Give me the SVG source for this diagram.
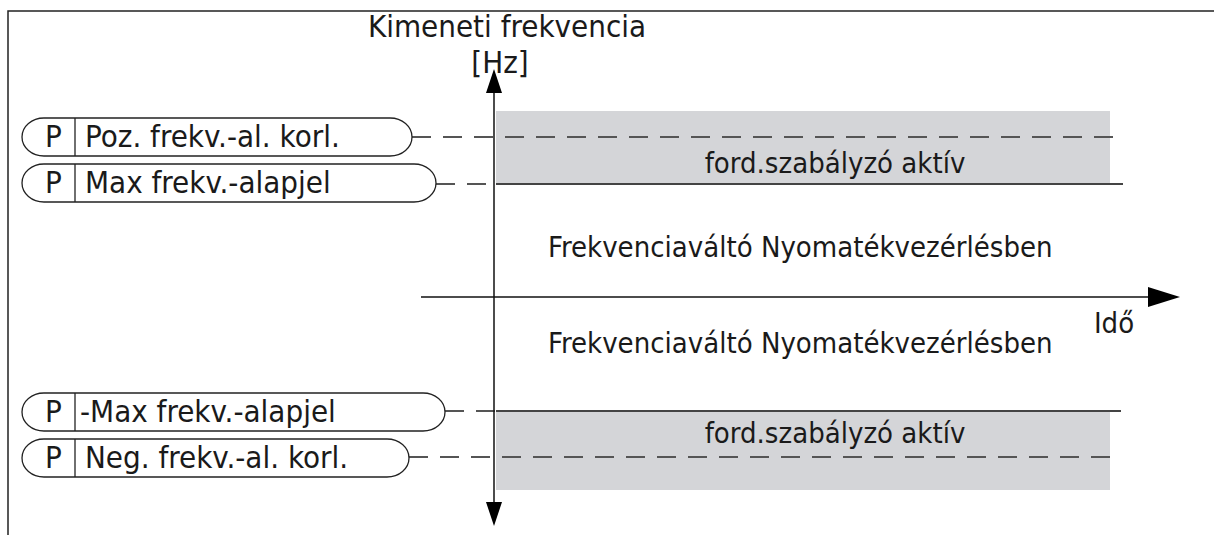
<svg xmlns="http://www.w3.org/2000/svg" width="1214" height="535" viewBox="0 0 1214 535">
<style>
text{font-family:"DejaVu Sans Condensed","DejaVu Sans",sans-serif;font-stretch:condensed;fill:#1a1a1a}
.m{font-size:29px}
.b{font-size:31px}
.box{fill:#fff;stroke:#222;stroke-width:1.3}
.div{stroke:#222;stroke-width:1.3}
.dash{stroke:#555;stroke-width:1.8;stroke-dasharray:19,12;fill:none}
.solid{stroke:#444;stroke-width:1.8;fill:none}
.axis{stroke:#111;stroke-width:1.5;fill:none}
.band{fill:#d4d5d8}
</style>
<path d="M8,535 V11 H1214" fill="none" stroke="#222" stroke-width="1.5"/>
<g id="bands">
<rect class="band" x="496" y="111" width="614" height="73"/>
<rect class="band" x="496" y="411" width="614" height="79"/>
</g>
<g id="connectors">
<line class="dash" x1="412" y1="137" x2="1123" y2="137"/>
<line class="dash" x1="436" y1="184" x2="496" y2="184"/>
<line class="solid" x1="496" y1="184" x2="1123" y2="184"/>
<line class="dash" x1="445" y1="411" x2="496" y2="411"/>
<line class="solid" x1="496" y1="411" x2="1121" y2="411"/>
<line class="dash" x1="409" y1="457" x2="1116" y2="457"/>
<path class="axis" d="M494,297 V90"/>
<path d="M494,69 L486,93 L502,93 z" fill="#000"/>
<path class="axis" d="M494,297 V505"/>
<path d="M494,526 L486,502 L502,502 z" fill="#000"/>
<path class="axis" d="M421,297 H1150"/>
<path d="M1180,297 L1148,287 L1148,307 z" fill="#000"/>
</g>
<g id="axis-labels">
<text class="b" x="507" y="37" text-anchor="middle">Kimeneti frekvencia</text>
<text class="b" x="500" y="73" text-anchor="middle">[Hz]</text>
<text class="m" x="1114" y="333" text-anchor="middle">Idő</text>
<text class="m" x="835" y="173" text-anchor="middle">ford.szabályzó aktív</text>
<text class="m" x="835" y="443" text-anchor="middle">ford.szabályzó aktív</text>
<text class="m" x="548" y="257">Frekvenciaváltó Nyomatékvezérlésben</text>
<text class="m" x="548" y="353">Frekvenciaváltó Nyomatékvezérlésben</text>
</g>
<g id="p1">
<rect class="box" x="22" y="118" width="390" height="38" rx="22" ry="19"/>
<line class="div" x1="75" y1="118" x2="75" y2="156"/>
<text class="b" x="45" y="147">P</text>
<text class="b" x="85" y="147">Poz. frekv.-al. korl.</text>
</g>
<g id="p2">
<rect class="box" x="22" y="164" width="414" height="38" rx="22" ry="19"/>
<line class="div" x1="75" y1="164" x2="75" y2="202"/>
<text class="b" x="45" y="193">P</text>
<text class="b" x="85" y="193">Max frekv.-alapjel</text>
</g>
<g id="p3">
<rect class="box" x="22" y="393" width="423" height="38" rx="22" ry="19"/>
<line class="div" x1="75" y1="393" x2="75" y2="431"/>
<text class="b" x="45" y="422">P</text>
<text class="b" x="80" y="422">-Max frekv.-alapjel</text>
</g>
<g id="p4">
<rect class="box" x="22" y="439" width="387" height="38" rx="22" ry="19"/>
<line class="div" x1="75" y1="439" x2="75" y2="477"/>
<text class="b" x="45" y="468">P</text>
<text class="b" x="85" y="468">Neg. frekv.-al. korl.</text>
</g>
</svg>
